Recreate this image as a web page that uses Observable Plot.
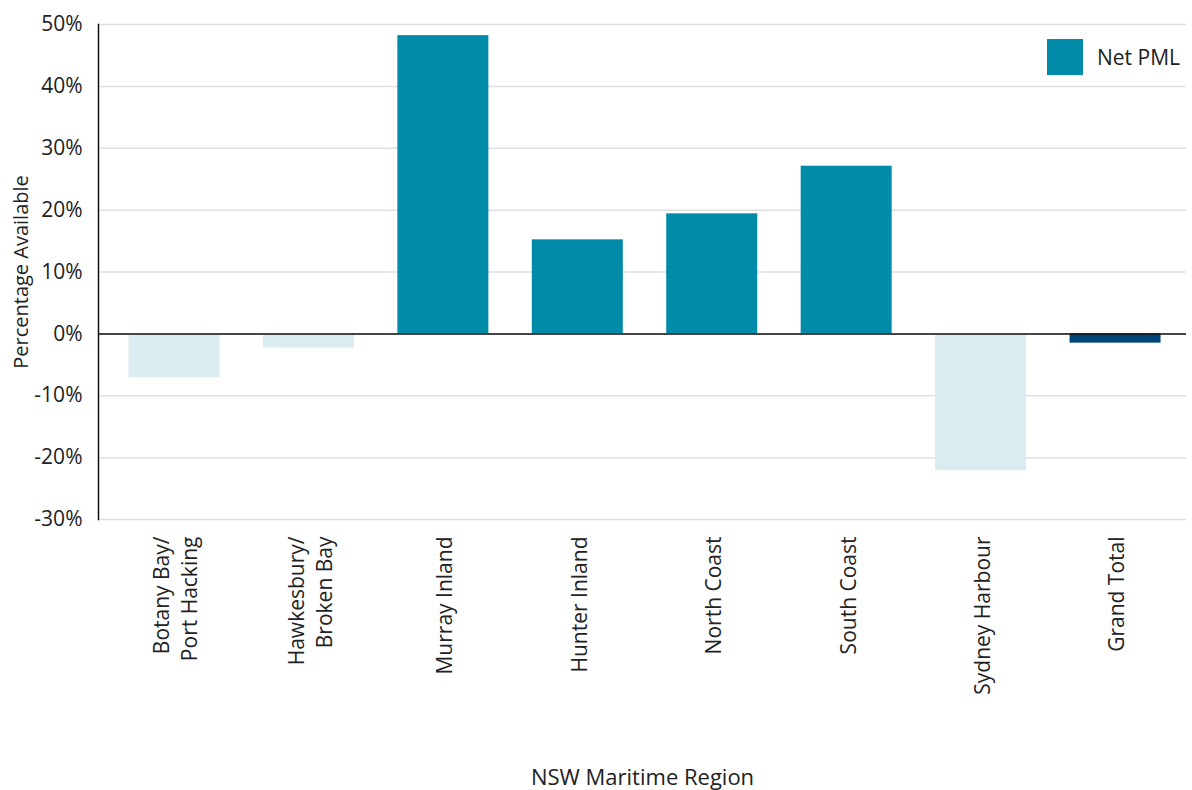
<!DOCTYPE html>
<html>
<head>
<meta charset="utf-8">
<script src="https://cdn.jsdelivr.net/npm/d3@7"></script>
<script src="https://cdn.jsdelivr.net/npm/@observablehq/plot@0.6"></script>
<style>
  html, body { margin: 0; padding: 0; background: #fff; }
  #wrap { position: relative; width: 1192px; height: 790px; overflow: hidden; font-family: "Open Sans", sans-serif; }
  #legend { position: absolute; left: 1047px; top: 39px; display: flex; align-items: center; font-size: 21px; color: #222; white-space: nowrap; }
  #legend .sw { width: 36px; height: 36px; background: #008ca8; margin-right: 14px; }
</style>
</head>
<body>
<div id="wrap"><div id="legend"><div class="sw"></div><span>Net PML</span></div></div>
<script>
const regions = [
  "Botany Bay/\nPort Hacking",
  "Hawkesbury/\nBroken Bay",
  "Murray Inland",
  "Hunter Inland",
  "North Coast",
  "South Coast",
  "Sydney Harbour",
  "Grand Total"
];
const netPML = [-7.1, -2.3, 48.2, 15.2, 19.4, 27.1, -22.1, -1.5];
const yTicks = [-30, -20, -10, 0, 10, 20, 30, 40, 50];

const data = regions.map((r, i) => ({region: r, value: netPML[i]}));
const fillFor = d => d.region === "Grand Total" ? "#00467a" : (d.value < 0 ? "#daecf0" : "#008ca8");

const chart = Plot.plot({
  width: 1192,
  height: 790,
  marginLeft: 98,
  marginRight: 6,
  marginTop: 24,
  marginBottom: 271,
  style: {fontFamily: "'Open Sans', sans-serif", fontSize: "21px", color: "#222", background: "transparent"},
  x: {domain: regions, paddingInner: 0.323, paddingOuter: 0.208, align: 0.545, round: false, label: null},
  y: {domain: [-30, 50], label: null},
  marks: [
    Plot.gridY(yTicks, {stroke: "#e0e0e0", strokeOpacity: 1, strokeWidth: 1.5}),
    Plot.barY(data, {x: "region", y: "value", fill: fillFor}),
    Plot.ruleY([0], {stroke: "#111", strokeWidth: 1.5}),
    Plot.frame({anchor: "left", stroke: "#111", strokeWidth: 1.5}),
    Plot.axisY(yTicks, {tickSize: 0, tickPadding: 16, tickFormat: d => d + "%", fontSize: 21}),
    Plot.axisY({ticks: [], label: "Percentage Available", labelAnchor: "center", labelOffset: 85, labelArrow: "none", fontSize: 20}),
    Plot.axisX({tickSize: 0, tickPadding: 17, tickRotate: -90, fontSize: 21, lineHeight: 1.33, label: null}),
    Plot.axisX({ticks: [], label: "NSW Maritime Region", labelAnchor: "center", labelOffset: 265, labelArrow: "none", fontSize: 22})
  ]
});
document.getElementById("wrap").prepend(chart);
</script>
</body>
</html>
